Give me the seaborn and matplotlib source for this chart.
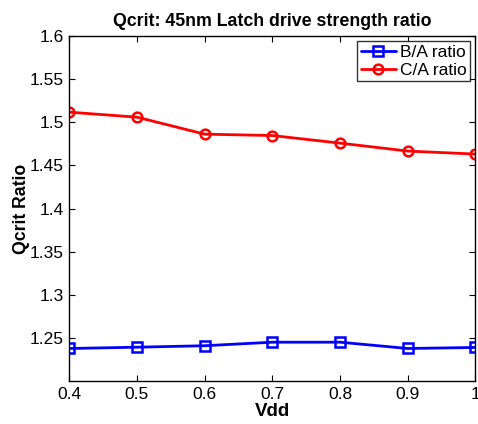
import matplotlib
matplotlib.use("Agg")
import matplotlib.pyplot as plt
import pandas as pd
import seaborn as sns

vdd = [0.4, 0.5, 0.6, 0.7, 0.8, 0.9, 1.0]
ba_ratio = [1.2377, 1.2392, 1.2409, 1.2450, 1.2450, 1.2377, 1.2389]
ca_ratio = [1.5117, 1.5059, 1.4862, 1.4846, 1.4758, 1.4666, 1.4631]
series_names = ["B/A ratio", "C/A ratio"]
x_ticks = [0.4, 0.5, 0.6, 0.7, 0.8, 0.9, 1.0]
x_tick_labels = ["0.4", "0.5", "0.6", "0.7", "0.8", "0.9", "1"]
y_ticks = [1.25, 1.3, 1.35, 1.4, 1.45, 1.5, 1.55, 1.6]
y_tick_labels = ["1.25", "1.3", "1.35", "1.4", "1.45", "1.5", "1.55", "1.6"]

df = pd.DataFrame({
    "Vdd": vdd * 2,
    "ratio": ba_ratio + ca_ratio,
    "series": [series_names[0]] * len(vdd) + [series_names[1]] * len(vdd),
})

sns.set_style("white")
plt.rcParams["font.family"] = ["Liberation Sans", "DejaVu Sans"]
plt.rcParams["text.color"] = "black"
plt.rcParams["axes.labelcolor"] = "black"

fig = plt.figure(figsize=(4.78, 4.24), dpi=100)
ax = fig.add_axes([0.145, 0.1014, 0.8494, 0.8137])

sns.lineplot(
    data=df, x="Vdd", y="ratio", hue="series", style="series",
    palette={series_names[0]: "#0000ff", series_names[1]: "#ff0000"},
    markers={series_names[0]: "s", series_names[1]: "o"},
    dashes=False, linewidth=2.0, markersize=7,
    markerfacecolor="none", markeredgewidth=1.8, ax=ax,
)
for line in ax.get_lines():
    line.set_markerfacecolor("none")
    line.set_markeredgecolor(line.get_color())

ax.set_xlim(0.4, 1.0)
ax.set_ylim(1.2, 1.6)
ax.set_xticks(x_ticks)
ax.set_xticklabels(x_tick_labels)
ax.set_yticks(y_ticks)
ax.set_yticklabels(y_tick_labels)
ax.tick_params(direction="in", length=4, width=0.8, labelsize=12.5, colors="black",
               top=True, right=True, bottom=True, left=True, pad=4)
for s in ax.spines.values():
    s.set_visible(True)
    s.set_color("black")
    s.set_linewidth(1.0)

ax.set_xlabel("Vdd", fontsize=13.5, fontweight="bold", labelpad=1, color="black")
ax.set_ylabel("Qcrit Ratio", fontsize=12.7, fontweight="bold", labelpad=-0.5, color="black")
ax.set_title("Qcrit: 45nm Latch drive strength ratio", fontsize=12.8,
             fontweight="bold", pad=7, color="black")

handles, labels = ax.get_legend_handles_labels()
for h in handles:
    h.set_markerfacecolor("none")
    h.set_markeredgecolor(h.get_color())
leg = ax.legend(handles, labels, loc="upper right", fontsize=12.5, frameon=True,
                fancybox=False, edgecolor="black", borderaxespad=0.3,
                handlelength=2.0, handletextpad=0.25, borderpad=0.2, labelspacing=0.15)
leg.get_frame().set_linewidth(1.0)
for t in leg.get_texts():
    t.set_color("black")

fig.savefig("out.png", dpi=100, facecolor="white")
